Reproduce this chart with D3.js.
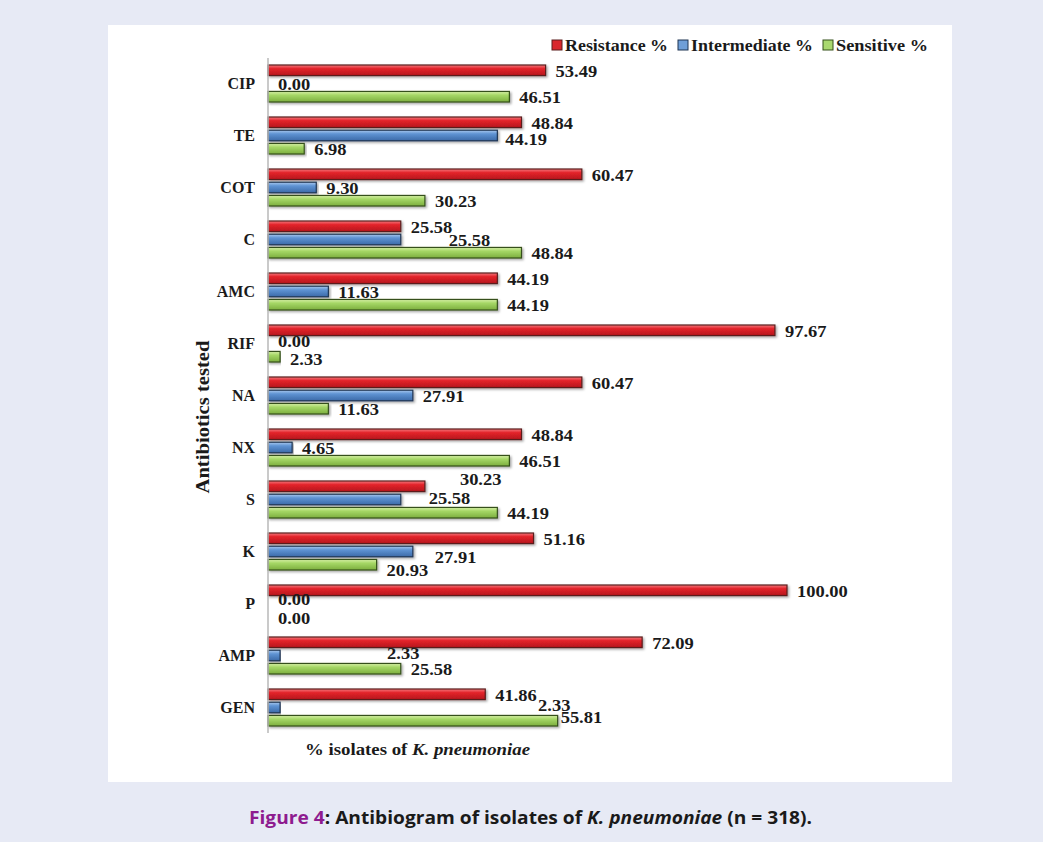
<!DOCTYPE html>
<html>
<head>
<meta charset="utf-8">
<script src="https://cdn.jsdelivr.net/npm/d3@7"></script>
<style>
  html, body { margin: 0; padding: 0; background: #e7eaf5; }
  #container { width: 1043px; height: 842px; }
</style>
</head>
<body>
<div id="container"></div>
<script>
const categories = ["CIP", "TE", "COT", "C", "AMC", "RIF", "NA", "NX", "S", "K", "P", "AMP", "GEN"];
const series = ["Resistance %", "Intermediate %", "Sensitive %"];
const resistance = [53.49, 48.84, 60.47, 25.58, 44.19, 97.67, 60.47, 48.84, 30.23, 51.16, 100.00, 72.09, 41.86];
const intermediate = [0.00, 44.19, 9.30, 25.58, 11.63, 0.00, 27.91, 4.65, 25.58, 27.91, 0.00, 2.33, 2.33];
const sensitive = [46.51, 6.98, 30.23, 48.84, 44.19, 2.33, 11.63, 46.51, 44.19, 20.93, 0.00, 25.58, 55.81];

// label nudges (dx, dy) for labels moved away from the bar end in the original
const nudge = {
  "C|1": [38, 0], "S|0": [25, -8], "S|1": [18, -2], "K|1": [12, 5], "K|2": [0, 5],
  "GEN|1": [248, -3], "GEN|2": [-7, -4], "AMP|1": [97, -3], "TE|1": [-2, 3],
  "P|1": [0, -5], "P|2": [0, 1], "RIF|1": [0, -3], "RIF|2": [0, 2]
};

const W = 1043, H = 842;
const serif = "'Liberation Serif', 'Times New Roman', serif";

const svg = d3.select("#container").append("svg")
  .attr("width", W).attr("height", H);

const defs = svg.append("defs");
const grads = [
  ["gRed", "#f47a7e", "#e3232a", "#b5161c"],
  ["gBlue", "#a9c8ee", "#5e93d3", "#3c6aa8"],
  ["gGreen", "#d8f0a8", "#a5d766", "#7cae3e"]
];
grads.forEach(([id, a, b, c]) => {
  const g = defs.append("linearGradient").attr("id", id)
    .attr("x1", 0).attr("y1", 0).attr("x2", 0).attr("y2", 1);
  g.append("stop").attr("offset", "0%").attr("stop-color", a);
  g.append("stop").attr("offset", "35%").attr("stop-color", b);
  g.append("stop").attr("offset", "100%").attr("stop-color", c);
});
defs.append("filter").attr("id", "shadow")
  .attr("x", "-5%").attr("y", "-30%").attr("width", "110%").attr("height", "180%")
  .append("feDropShadow").attr("dx", 1.5).attr("dy", 1.5)
  .attr("stdDeviation", 1).attr("flood-color", "#000").attr("flood-opacity", 0.35);

svg.append("rect").attr("width", W).attr("height", H).attr("fill", "#e7eaf5");
svg.append("rect").attr("x", 108).attr("y", 25).attr("width", 844).attr("height", 757).attr("fill", "#fff");

const x = d3.scaleLinear().domain([0, 100]).range([268, 787]);
const y0 = d3.scaleBand().domain(categories).range([57, 733]);
const y1 = d3.scaleBand().domain(d3.range(3)).range([8, 45]).paddingInner(0.2);

const fills = ["url(#gRed)", "url(#gBlue)", "url(#gGreen)"];
const strokes = ["#5a1c1c", "#1f3553", "#34501a"];
const swatch = ["#d9262c", "#6f9fd8", "#a9d86e"];
const cols = [resistance, intermediate, sensitive];

const rows = [];
categories.forEach((c, i) => cols.forEach((arr, s) => rows.push({ cat: c, s, v: arr[i] })));

const gBars = svg.append("g");
gBars.selectAll("rect")
  .data(rows.filter(d => d.v > 0))
  .join("rect")
  .attr("x", x(0))
  .attr("y", d => y0(d.cat) + y1(d.s))
  .attr("width", d => x(d.v) - x(0))
  .attr("height", y1.bandwidth())
  .attr("fill", d => fills[d.s])
  .attr("stroke", d => strokes[d.s])
  .attr("stroke-width", 1.2)
  .attr("filter", "url(#shadow)");

// axis line
svg.append("line")
  .attr("x1", x(0)).attr("x2", x(0))
  .attr("y1", 58).attr("y2", 733)
  .attr("stroke", "#b8b8b8").attr("stroke-width", 1.5);

// value labels (slightly wide, like the stretched original)
svg.append("g")
  .attr("font-family", serif).attr("font-weight", "bold").attr("font-size", 16.5)
  .attr("fill", "#1a1a1a")
  .selectAll("text")
  .data(rows)
  .join("text")
  .attr("x", d => x(d.v) + 10 + (nudge[d.cat + "|" + d.s] || [0, 0])[0])
  .attr("y", d => y0(d.cat) + y1(d.s) + y1.bandwidth() / 2 + 3 + (nudge[d.cat + "|" + d.s] || [0, 0])[1])
  .attr("dominant-baseline", "middle")
  .text(d => d.v.toFixed(2))
  .each(function () {
    const len = this.getComputedTextLength();
    d3.select(this).attr("textLength", len * 1.12).attr("lengthAdjust", "spacingAndGlyphs");
  });

// category labels
svg.append("g")
  .attr("font-family", serif).attr("font-weight", "bold").attr("font-size", 16)
  .attr("fill", "#1a1a1a").attr("text-anchor", "end")
  .selectAll("text")
  .data(categories)
  .join("text")
  .attr("x", 255)
  .attr("y", d => y0(d) + y0.bandwidth() / 2 + 2)
  .attr("dominant-baseline", "middle")
  .text(d => d);

// y title
svg.append("text")
  .attr("transform", "translate(209,417) rotate(-90)")
  .attr("text-anchor", "middle")
  .attr("font-family", serif).attr("font-weight", "bold").attr("font-size", 19)
  .attr("fill", "#1a1a1a")
  .attr("textLength", 153).attr("lengthAdjust", "spacingAndGlyphs")
  .text("Antibiotics tested");

// x title
const xt = svg.append("text")
  .attr("x", 305).attr("y", 755)
  .attr("font-family", serif).attr("font-weight", "bold").attr("font-size", 16)
  .attr("fill", "#1a1a1a")
  .attr("textLength", 225).attr("lengthAdjust", "spacingAndGlyphs");
xt.append("tspan").text("% isolates of ");
xt.append("tspan").attr("font-style", "italic").text("K. pneumoniae");

// legend
const leg = svg.append("g").attr("font-family", serif).attr("font-weight", "bold")
  .attr("font-size", 17).attr("fill", "#1a1a1a");
const legW = [103, 122, 92];
let lx = 552;
series.forEach((s, i) => {
  leg.append("rect").attr("x", lx).attr("y", 40).attr("width", 10).attr("height", 10)
    .attr("fill", swatch[i]).attr("stroke", strokes[i]).attr("stroke-width", 1);
  leg.append("text").attr("x", lx + 13).attr("y", 51)
    .attr("textLength", legW[i]).attr("lengthAdjust", "spacingAndGlyphs").text(s);
  lx += 13 + legW[i] + 10;
});

// caption
const cap = svg.append("text")
  .attr("x", 249).attr("y", 824)
  .attr("font-family", "'Open Sans', 'Noto Sans', sans-serif").attr("font-weight", "bold")
  .attr("font-size", 18).attr("fill", "#1a1a1a")
  .attr("textLength", 563).attr("lengthAdjust", "spacingAndGlyphs");
cap.append("tspan").attr("fill", "#8e1b8f").text("Figure 4");
cap.append("tspan").text(": Antibiogram of isolates of ");
cap.append("tspan").attr("font-style", "italic").text("K. pneumoniae");
cap.append("tspan").text(" (n = 318).");
</script>
</body>
</html>
